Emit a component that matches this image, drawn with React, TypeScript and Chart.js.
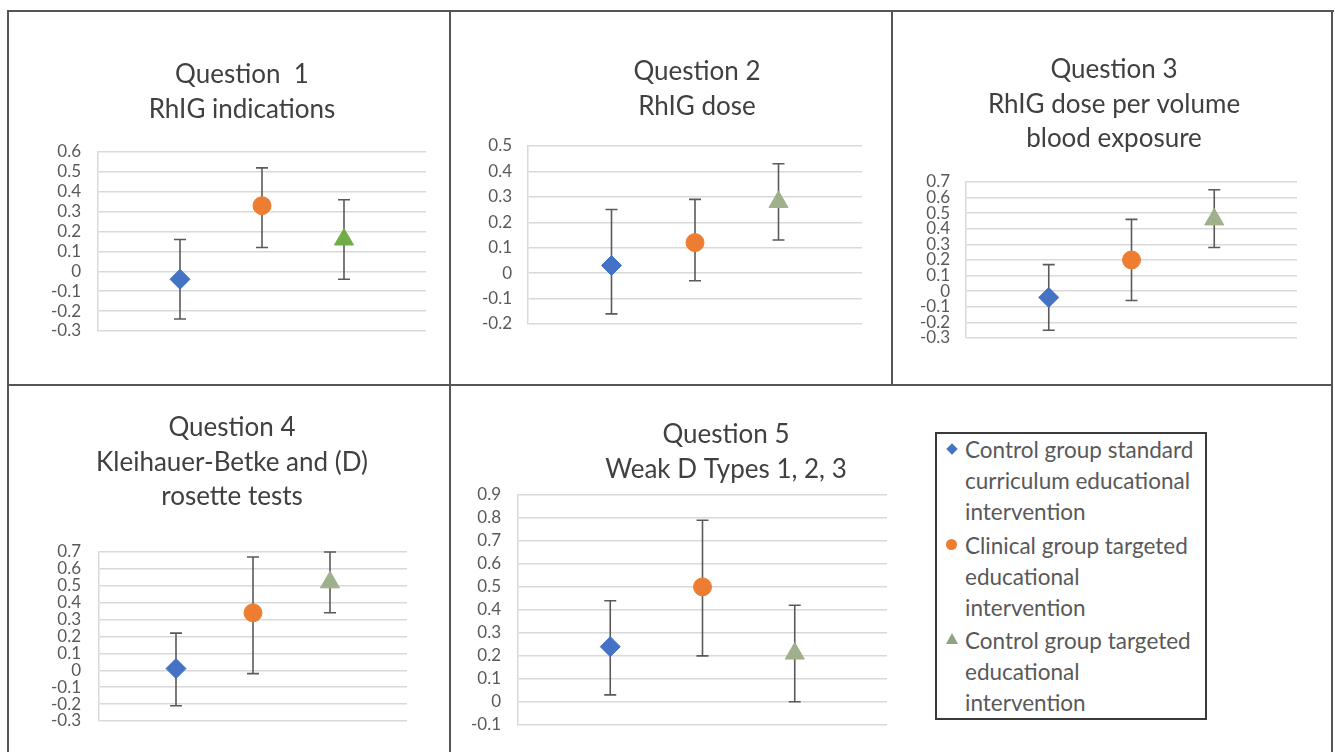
import React, { useEffect, useRef } from 'react';
import { Chart, registerables } from 'chart.js';

Chart.register(...registerables);

// ---------- DATA ----------
const questionTitles: string[][] = [
  ['Question  1', 'RhIG indications'],
  ['Question 2', 'RhIG dose'],
  ['Question 3', 'RhIG dose per volume', 'blood exposure'],
  ['Question 4', 'Kleihauer-Betke and (D)', 'rosette tests'],
  ['Question 5', 'Weak D Types 1, 2, 3'],
];

const groupNames = [
  'Control group standard curriculum educational intervention',
  'Clinical group targeted educational intervention',
  'Control group targeted educational intervention',
];
const legendLines: string[][] = [
  ['Control group standard', 'curriculum educational', 'intervention'],
  ['Clinical group targeted', 'educational', 'intervention'],
  ['Control group targeted', 'educational', 'intervention'],
];

// per question (Q1..Q5)
const controlStandardMean = [-0.04, 0.03, -0.04, 0.01, 0.24];
const controlStandardLow = [-0.24, -0.16, -0.25, -0.21, 0.03];
const controlStandardHigh = [0.16, 0.25, 0.17, 0.22, 0.44];

const clinicalTargetedMean = [0.33, 0.12, 0.2, 0.34, 0.5];
const clinicalTargetedLow = [0.12, -0.03, -0.06, -0.02, 0.2];
const clinicalTargetedHigh = [0.52, 0.29, 0.46, 0.67, 0.79];

const controlTargetedMean = [0.16, 0.28, 0.46, 0.52, 0.21];
const controlTargetedLow = [-0.04, 0.13, 0.28, 0.34, 0.0];
const controlTargetedHigh = [0.36, 0.43, 0.65, 0.7, 0.42];

const axisMin = [-0.3, -0.2, -0.3, -0.3, -0.1];
const axisMax = [0.6, 0.5, 0.7, 0.7, 0.9];
const axisStep = 0.1;

const groupMeans = [controlStandardMean, clinicalTargetedMean, controlTargetedMean];
const groupLows = [controlStandardLow, clinicalTargetedLow, controlTargetedLow];
const groupHighs = [controlStandardHigh, clinicalTargetedHigh, controlTargetedHigh];

// ---------- STYLE / LAYOUT ----------
const FONT = 'Lato, "Open Sans", "DejaVu Sans", sans-serif';
const pointStyles = ['rectRot', 'circle', 'triangle'];
const pointRadii = [10, 9, 11];
const groupColors = ['#4472C4', '#ED7D31', '#9FB08C'];
const q1GreenColor = '#70AD47';
const legendGreen = '#8FA37E';

type Layout = {
  left: number; top: number; width: number; height: number;
  pl: number; pb: number; yw: number; ywR: number;
  tpt: number; tpb: number; tickPad: number;
};
const layouts: Layout[] = [
  { left: 9, top: 12, width: 425, height: 372, pl: 41, pb: 53, yw: 48, ywR: 8, tpt: 45.84, tpb: 25.52, tickPad: 17 },
  { left: 451, top: 12, width: 463, height: 372, pl: 29, pb: 60, yw: 48, ywR: 52, tpt: 42.84, tpb: 22.52, tickPad: 16 },
  { left: 893, top: 12, width: 417, height: 372, pl: 25, pb: 46, yw: 48, ywR: 13, tpt: 40.84, tpb: 26.2, tickPad: 16 },
  { left: 9, top: 387, width: 404, height: 365, pl: 42, pb: 31, yw: 48, ywR: 6, tpt: 23.84, tpb: 38.2, tickPad: 18 },
  { left: 452, top: 387, width: 530, height: 365, pl: 18, pb: 23, yw: 48, ywR: 95, tpt: 30.84, tpb: 8.52, tickPad: 17 },
];

const errorBarPlugin = {
  id: 'errorBars',
  beforeDatasetsDraw(chart: any) {
    const { ctx } = chart;
    const xs = chart.scales.x;
    const ys = chart.scales.y;
    ctx.save();
    ctx.strokeStyle = '#5a5a5a';
    ctx.lineWidth = 1.6;
    chart.data.datasets.forEach((ds: any) => {
      ds.data.forEach((p: any) => {
        const px = xs.getPixelForValue(p.x);
        const top = ys.getPixelForValue(p.high);
        const bot = ys.getPixelForValue(p.low);
        ctx.beginPath();
        ctx.moveTo(px, top);
        ctx.lineTo(px, bot);
        ctx.moveTo(px - 6, top);
        ctx.lineTo(px + 6, top);
        ctx.moveTo(px - 6, bot);
        ctx.lineTo(px + 6, bot);
        ctx.stroke();
      });
    });
    ctx.restore();
  },
};

function QuestionChart({ q }: { q: number }) {
  const ref = useRef<HTMLCanvasElement>(null);
  const L = layouts[q];
  useEffect(() => {
    if (!ref.current) return;
    const datasets = groupMeans.map((means, gi) => {
      const color = gi === 2 && q === 0 ? q1GreenColor : groupColors[gi];
      return {
        label: groupNames[gi],
        data: [{ x: gi + 1, y: means[q], low: groupLows[gi][q], high: groupHighs[gi][q] }],
        pointStyle: pointStyles[gi],
        pointRadius: pointRadii[gi],
        pointHoverRadius: pointRadii[gi],
        backgroundColor: color,
        borderColor: color,
        borderWidth: 1,
        showLine: false,
      };
    });
    const chart = new Chart(ref.current, {
      type: 'scatter',
      data: { datasets },
      plugins: [errorBarPlugin],
      options: {
        animation: false,
        responsive: false,
        events: [],
        layout: { autoPadding: false, padding: { left: L.pl, right: 0, top: 0, bottom: L.pb } },
        plugins: {
          legend: { display: false },
          tooltip: { enabled: false },
          title: {
            display: true,
            text: questionTitles[q],
            color: '#404040',
            font: { family: FONT, size: 26, weight: 'normal', lineHeight: 34.3 / 26 },
            padding: { top: L.tpt, bottom: L.tpb },
            fullSize: true,
          },
        },
        scales: {
          x: { type: 'linear', min: 0, max: 4, display: false },
          y: {
            type: 'linear',
            position: 'left',
            min: axisMin[q],
            max: axisMax[q],
            afterFit: (s: any) => { s.width = L.yw; },
            ticks: {
              stepSize: axisStep,
              autoSkip: false,
              padding: L.tickPad,
              color: '#595959',
              font: { family: FONT, size: 17 },
              callback: (v: any) => {
                const r = Math.round(Number(v) * 10) / 10;
                return r === 0 ? '0' : String(r);
              },
            },
            grid: { color: '#d9d9d9', lineWidth: 1.5, drawTicks: false },
            border: { color: '#d9d9d9', width: 1.5 },
          },
          yR: {
            type: 'linear',
            position: 'right',
            display: true,
            afterFit: (s: any) => { s.width = L.ywR; },
            ticks: { display: false },
            grid: { display: false, drawTicks: false },
            border: { display: false },
          },
        },
      } as any,
    });
    return () => chart.destroy();
  }, [q]);
  return (
    <canvas
      ref={ref}
      width={L.width}
      height={L.height}
      style={{ position: 'absolute', left: L.left, top: L.top, width: L.width, height: L.height }}
    />
  );
}

const lineColor = '#555555';
function Line({ x, y, w, h }: { x: number; y: number; w: number; h: number }) {
  return <div style={{ position: 'absolute', left: x, top: y, width: w, height: h, background: lineColor }} />;
}

function LegendMarker({ i }: { i: number }) {
  if (i === 0) {
    return <div style={{ position: 'absolute', left: 11, top: 11, width: 8, height: 8, background: groupColors[0], transform: 'rotate(45deg)' }} />;
  }
  if (i === 1) {
    return <div style={{ position: 'absolute', left: 9, top: 9, width: 11, height: 11, borderRadius: '50%', background: groupColors[1] }} />;
  }
  return (
    <div style={{ position: 'absolute', left: 9, top: 8, width: 0, height: 0, borderLeft: '6px solid transparent', borderRight: '6px solid transparent', borderBottom: `11px solid ${legendGreen}` }} />
  );
}

export default function App() {
  return (
    <div style={{ position: 'fixed', left: 0, top: 0, width: 1335, height: 752, overflow: 'hidden', background: '#fff' }}>
      {[0, 1, 2, 3, 4].map((q) => <QuestionChart key={q} q={q} />)}
      {/* legend */}
      <div style={{ position: 'absolute', left: 935, top: 432, width: 272, height: 288, border: '2px solid #3a3a3a', boxSizing: 'border-box', background: '#fff', fontFamily: FONT, color: '#595959', fontSize: 22.5 }}>
        {legendLines.map((lines, i) => (
          <div key={i} style={{ position: 'relative', paddingLeft: 28, marginTop: i === 0 ? 0 : 2.5 }}>
            <LegendMarker i={i} />
            {lines.map((t, j) => (
              <div key={j} style={{ height: 31, lineHeight: '31px', whiteSpace: 'nowrap' }}>{t}</div>
            ))}
          </div>
        ))}
      </div>
      {/* frame lines */}
      <Line x={7} y={10} w={1327} h={2} />
      <Line x={7} y={10} w={2} h={742} />
      <Line x={1331} y={10} w={2} h={742} />
      <Line x={7} y={384} w={1326} h={2} />
      <Line x={449} y={10} w={2} h={742} />
      <Line x={891} y={10} w={2} h={376} />
    </div>
  );
}
